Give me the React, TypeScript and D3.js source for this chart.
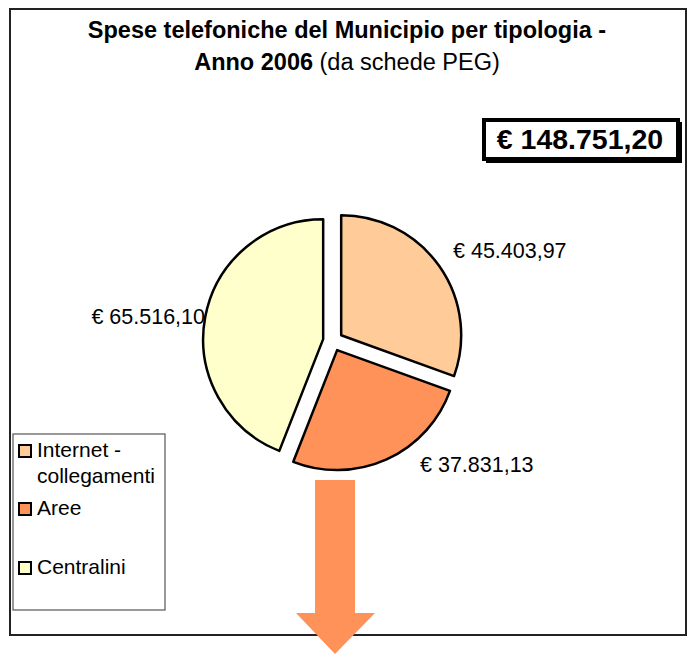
import React from "react";
import * as d3 from "d3";

const categories = ["Internet - collegamenti", "Aree", "Centralini"];
const values = [45403.97, 37831.13, 65516.1];
const valueLabels = ["€ 45.403,97", "€ 37.831,13", "€ 65.516,10"];
const colors = ["#FFCC99", "#FF9258", "#FFFFCC"];
const totalLabel = "€ 148.751,20";
const titleLine1 = "Spese telefoniche del Municipio per tipologia -";
const titleLine2Bold = "Anno 2006";
const titleLine2Rest = " (da schede PEG)";

const W = 694;
const H = 654;
const FONT = "Liberation Sans, Arial, sans-serif";

export default function App() {
  const cx = 333;
  const cy = 341;
  const r = 120;
  const explode = 10;
  const pie = d3.pie<number>().sort(null).value((d) => d)(values);
  const arc = d3.arc<d3.PieArcDatum<number>>().innerRadius(0).outerRadius(r);
  const labelPos: [number, number, string][] = [
    [453, 258, "start"],
    [420, 472, "start"],
    [205, 324, "end"],
  ];
  const legendRows = [
    { lines: ["Internet -", "collegamenti"], y: 445 },
    { lines: ["Aree"], y: 503 },
    { lines: ["Centralini"], y: 562 },
  ];
  return (
    <svg
      width={W}
      height={H}
      style={{ position: "absolute", left: 0, top: 0 }}
      fontFamily={FONT}
    >
      <rect x={0} y={0} width={W} height={H} fill="#fff" />
      <rect x={10} y={9} width={676} height={626} fill="#fff" stroke="#222" strokeWidth={2} />
      <text x={347} y={38} textAnchor="middle" fontSize={23.5} fontWeight="bold">
        {titleLine1}
      </text>
      <text x={347} y={70} textAnchor="middle" fontSize={23.5}>
        <tspan fontWeight="bold">{titleLine2Bold}</tspan>
        <tspan>{titleLine2Rest}</tspan>
      </text>
      {/* total box */}
      <rect x={486} y={122} width={196} height={41} fill="#000" />
      <rect x={484} y={120} width={194} height={39} fill="#fff" stroke="#000" strokeWidth={4} />
      <text x={580} y={149} textAnchor="middle" fontSize={28.5} fontWeight="bold">
        {totalLabel}
      </text>
      {/* pie */}
      {pie.map((p, i) => {
        const mid = (p.startAngle + p.endAngle) / 2;
        const dx = Math.sin(mid) * explode;
        const dy = -Math.cos(mid) * explode;
        return (
          <path
            key={i}
            d={arc(p) || ""}
            transform={`translate(${cx + dx},${cy + dy})`}
            fill={colors[i]}
            stroke="#000"
            strokeWidth={2.5}
            strokeLinejoin="round"
          />
        );
      })}
      {pie.map((p, i) => (
        <text
          key={"l" + i}
          x={labelPos[i][0]}
          y={labelPos[i][1]}
          textAnchor={labelPos[i][2] as any}
          fontSize={21.5}
        >
          {valueLabels[i]}
        </text>
      ))}
      {/* legend */}
      <rect x={13} y={434} width={152} height={176} fill="#fff" stroke="#555" strokeWidth={1.2} />
      {legendRows.map((row, i) => (
        <g key={"g" + i}>
          <rect
            x={19}
            y={row.y}
            width={12}
            height={12}
            fill={colors[i]}
            stroke="#000"
            strokeWidth={2}
          />
          {row.lines.map((ln, j) => (
            <text key={j} x={37} y={row.y + 12 + j * 26} fontSize={21}>
              {ln}
            </text>
          ))}
        </g>
      ))}
      {/* arrow */}
      <path
        d="M315,480 L355,480 L355,613 L375,613 L335,654 L296,613 L315,613 Z"
        fill="#FF9258"
      />
    </svg>
  );
}
